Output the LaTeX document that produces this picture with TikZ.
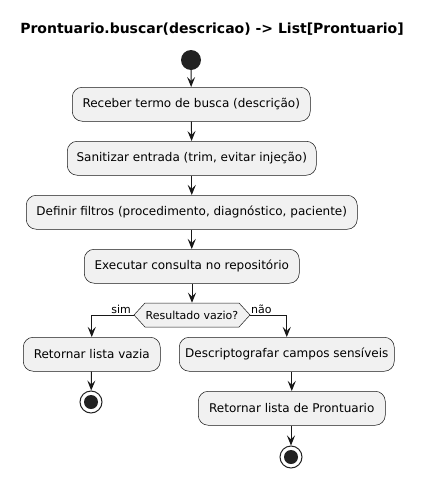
\documentclass[tikz,border=0pt]{standalone}
\usepackage{fontspec}
\setmainfont{DejaVu Sans}
\usetikzlibrary{arrows.meta,shapes.symbols}
\definecolor{boxfill}{HTML}{F1F1F1}
\definecolor{ink}{HTML}{181818}
\definecolor{dark}{HTML}{222222}
\begin{document}
\begin{tikzpicture}[x=1pt,y=-1pt,
  actbox/.style={draw=ink,line width=0.5pt,fill=boxfill,rounded corners=10pt,
    minimum height=34pt,inner sep=0pt,font=\fontsize{12}{14}\selectfont,anchor=north west},
  flow/.style={draw=ink,line width=1pt,-{Stealth[length=10pt,width=8pt,inset=4pt]}},
  lbl/.style={font=\fontsize{11}{13}\selectfont,inner sep=0pt}]
\useasboundingbox (0,0) rectangle (425,477);
\node[font=\bfseries\fontsize{14}{16}\selectfont] (title) at (212,29) {Prontuario.buscar(descricao) -> List[Prontuario]};
\node[circle,fill=dark,minimum size=20pt,inner sep=0pt] (start) at (191,60) {};
\node[actbox,minimum width=238pt] (b1) at (72,87) {Receber termo de busca (descrição)};
\node[actbox,minimum width=249pt] (b2) at (67,141) {Sanitizar entrada (trim, evitar injeção)};
\node[actbox,minimum width=331pt] (b3) at (26,195) {Definir filtros (procedimento, diagnóstico, paciente)};
\node[actbox,minimum width=215pt] (b4) at (84,249) {Executar consulta no repositório};
\node[draw=ink,line width=0.5pt,fill=boxfill,shape=signal,signal to=west and east,
  signal pointer angle=95,minimum width=116pt,minimum height=24pt,inner sep=0pt,
  font=\fontsize{11}{13}\selectfont] (dec) at (192,315) {Resultado vazio?};
\node[actbox,minimum width=137pt] (b5) at (23,337) {Retornar lista vazia};
\node[actbox,minimum width=215pt] (b6) at (179,337) {Descriptografar campos sensíveis};
\node[actbox,minimum width=187pt] (b7) at (198,391) {Retornar lista de Prontuario};
\node[circle,draw=dark,line width=1pt,fill=white,minimum size=22pt,inner sep=0pt] (end1) at (91,402) {};
\fill[dark] (end1.center) circle (7pt);
\node[circle,draw=dark,line width=1pt,fill=white,minimum size=22pt,inner sep=0pt] (end2) at (291,457) {};
\fill[dark] (end2.center) circle (7pt);
\draw[flow] (start) -- (b1);
\draw[flow] (b1) -- (b2);
\draw[flow] (b2) -- (b3);
\draw[flow] (b3) -- (b4);
\draw[flow] (b4.south -| dec.north) -- (dec.north);
\draw[flow] (dec.west) -| (b5.north);
\draw[flow] (dec.east) -| (b6.north);
\draw[flow] (b5) -- (end1);
\draw[flow] (b6.south -| b7.north) -- (b7.north);
\draw[flow] (b7.south -| end2.north) -- (end2.north);
\node[lbl,anchor=base east] (sim) at (131,313) {sim};
\node[lbl,anchor=base west] (nao) at (251,313) {não};
\end{tikzpicture}
\end{document}
